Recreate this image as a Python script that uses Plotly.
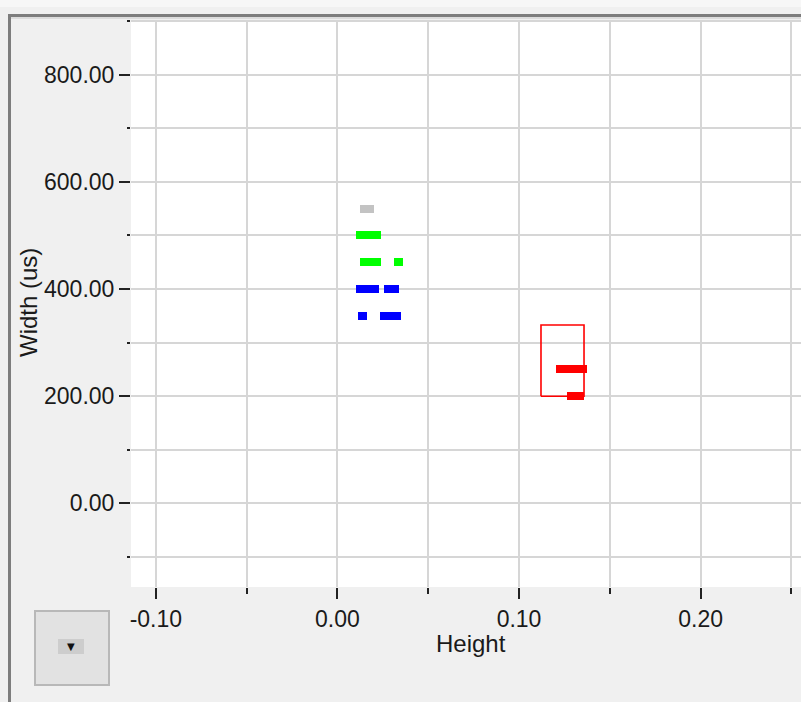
import plotly.graph_objects as go

# ---- data ----
series_names = ["gray", "green", "blue", "red"]
series_colors = ["#c3c3c3", "#00ff00", "#0000ff", "#ff0000"]
# each bar: width value (us), height start, height end
gray_y = [550]
gray_x0 = [0.0124]
gray_x1 = [0.0203]

green_y = [500, 450, 450]
green_x0 = [0.0102, 0.0124, 0.0313]
green_x1 = [0.0238, 0.0238, 0.0359]

blue_y = [400, 400, 350, 350]
blue_x0 = [0.0102, 0.0258, 0.0115, 0.0236]
blue_x1 = [0.0227, 0.0337, 0.0161, 0.0348]

red_y = [250, 200]
red_x0 = [0.1203, 0.1262]
red_x1 = [0.1372, 0.1358]

# selection box (Height range, Width range)
box_x = [0.1121, 0.1358]
box_y = [200, 333]

x_ticks = [-0.10, 0.00, 0.10, 0.20]
x_tick_labels = ["-0.10", "0.00", "0.10", "0.20"]
y_ticks = [0, 200, 400, 600, 800]
y_tick_labels = ["0.00", "200.00", "400.00", "600.00", "800.00"]

# ---- layout geometry ----
W, H = 801, 702
L, R, T, B = 131, 0, 20, 115
PX0, PX1 = L, W - R
PY0, PY1 = T, H - B


def px(x):
    return (x - PX0) / (PX1 - PX0)


def py(y):
    return (PY1 - y) / (PY1 - PY0)


FONT = "Liberation Sans, Arial, sans-serif"
TXT = "#1a1a1a"

fig = go.Figure()

all_series = [
    (gray_y, gray_x0, gray_x1),
    (green_y, green_x0, green_x1),
    (blue_y, blue_x0, blue_x1),
    (red_y, red_x0, red_x1),
]
for name, color, (ys, x0s, x1s) in zip(series_names, series_colors, all_series):
    fig.add_trace(go.Bar(
        orientation="h",
        y=ys,
        base=x0s,
        x=[b - a for a, b in zip(x0s, x1s)],
        width=15,
        marker=dict(color=color, line=dict(width=0)),
        name=name,
        showlegend=False,
        hoverinfo="skip",
    ))

fig.add_trace(go.Scatter(
    x=[box_x[0], box_x[1], box_x[1], box_x[0], box_x[0]],
    y=[box_y[0], box_y[0], box_y[1], box_y[1], box_y[0]],
    mode="lines",
    line=dict(color="#ff0000", width=1.6),
    showlegend=False,
    hoverinfo="skip",
))

shapes = []
# top light strip
shapes.append(dict(type="rect", xref="paper", yref="paper",
                   x0=px(-5), x1=px(W + 5), y0=py(-5), y1=py(7),
                   fillcolor="#f7f7f7", line=dict(width=0), layer="below"))
# frame border (top and left)
shapes.append(dict(type="line", xref="paper", yref="paper",
                   x0=px(8), x1=px(W + 5), y0=py(15.5), y1=py(15.5),
                   line=dict(color="#7d7d7d", width=3), layer="above"))
shapes.append(dict(type="line", xref="paper", yref="paper",
                   x0=px(9.5), x1=px(9.5), y0=py(14), y1=py(H + 5),
                   line=dict(color="#7d7d7d", width=3), layer="above"))
shapes.append(dict(type="line", xref="paper", yref="paper",
                   x0=px(11), x1=px(W + 5), y0=py(18), y1=py(18),
                   line=dict(color="#c8c8c8", width=1), layer="above"))
# dropdown button
shapes.append(dict(type="rect", xref="paper", yref="paper",
                   x0=px(35), x1=px(109), y0=py(685), y1=py(611),
                   fillcolor="#e2e2e2", line=dict(color="#b8b8b8", width=2)))
shapes.append(dict(type="rect", xref="paper", yref="paper",
                   x0=px(58), x1=px(84), y0=py(654), y1=py(639),
                   fillcolor="#cdcdcd", line=dict(width=0)))

annotations = [
    dict(text="Height", xref="paper", yref="paper", x=px(471), y=py(643),
         xanchor="center", yanchor="middle", showarrow=False,
         font=dict(family=FONT, size=24, color=TXT)),
    dict(text="Width (us)", xref="paper", yref="paper", x=px(28), y=py(303),
         xanchor="center", yanchor="middle", showarrow=False, textangle=-90,
         font=dict(family=FONT, size=24, color=TXT)),
    dict(text="▼", xref="paper", yref="paper", x=px(71), y=py(646.5),
         xanchor="center", yanchor="middle", showarrow=False,
         font=dict(family="DejaVu Sans", size=10, color="#111111")),
]

fig.update_layout(
    width=W, height=H,
    margin=dict(l=L, r=R, t=T, b=B, pad=0),
    paper_bgcolor="#f0f0f0",
    plot_bgcolor="#ffffff",
    barmode="overlay",
    bargap=0,
    shapes=shapes,
    annotations=annotations,
    font=dict(family=FONT, size=23, color=TXT),
)

fig.update_xaxes(
    range=[-0.1137, 0.2553],
    tickvals=x_ticks,
    ticktext=x_tick_labels,
    ticks="outside", ticklen=11, tickwidth=1.5, tickcolor="#222222",
    showgrid=True, gridcolor="#d6d6d6", gridwidth=1.5,
    minor=dict(dtick=0.05, tick0=0, ticks="outside", ticklen=6, tickwidth=1.5,
               tickcolor="#222222", showgrid=True, gridcolor="#d6d6d6", gridwidth=1.5),
    zeroline=False, showline=False,
    tickfont=dict(family=FONT, size=23, color=TXT),
)
fig.update_yaxes(
    range=[-156, 902],
    tickvals=y_ticks,
    ticktext=y_tick_labels,
    ticks="outside", ticklen=11, tickwidth=1.5, tickcolor="#222222",
    showgrid=True, gridcolor="#d6d6d6", gridwidth=1.5,
    minor=dict(dtick=100, tick0=0, ticks="outside", ticklen=3, tickwidth=2,
               tickcolor="#222222", showgrid=True, gridcolor="#d6d6d6", gridwidth=1.5),
    zeroline=False, showline=False,
    tickfont=dict(family=FONT, size=23, color=TXT),
)

fig.write_html(
    "out.html",
    config={"displayModeBar": False},
    post_script="document.body.style.margin='0';document.body.style.padding='0';"
                "document.body.style.background='#f0f0f0';",
)
